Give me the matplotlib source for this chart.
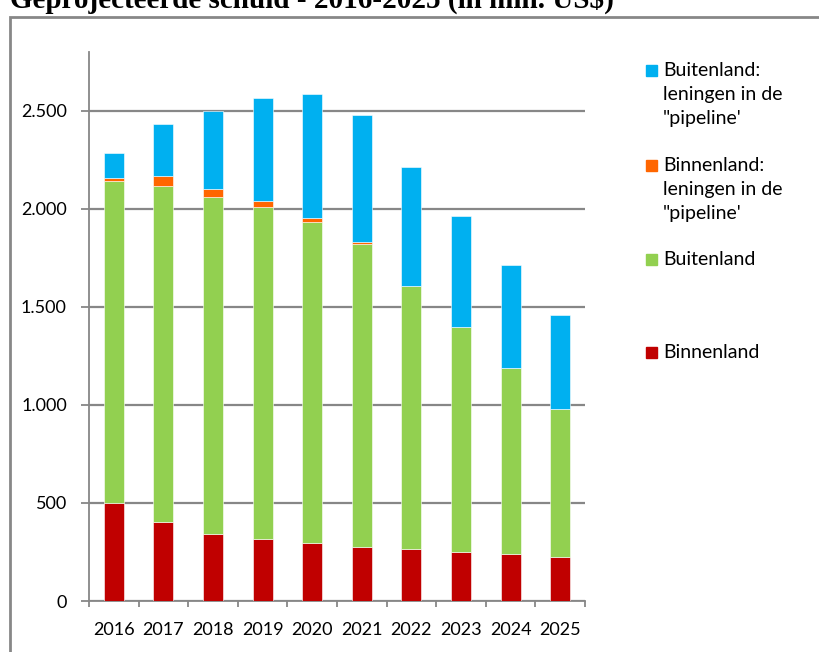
import matplotlib.pyplot as plt
from matplotlib.patches import Rectangle
import numpy as np

years = ["2016", "2017", "2018", "2019", "2020", "2021", "2022", "2023", "2024", "2025"]
binnenland = [500, 403, 342, 316, 296, 276, 265, 250, 240, 224]
buitenland = [1641, 1714, 1718, 1694, 1638, 1544, 1344, 1148, 949, 756]
binnen_pipeline = [14, 50, 40, 31, 20, 10, 0, 0, 0, 0]
buiten_pipeline = [132, 267, 397, 525, 633, 650, 607, 565, 524, 479]

labels = ["Binnenland", "Buitenland",
          "Binnenland:\nleningen in de\n\"pipeline'",
          "Buitenland:\nleningen in de\n\"pipeline'"]
colors = ["#C00000", "#92D050", "#FF6600", "#00B0F0"]
yticks = [0, 500, 1000, 1500, 2000, 2500]
ytick_labels = ["0", "500", "1.000", "1.500", "2.000", "2.500"]

W, H = 819, 652
fig = plt.figure(figsize=(W / 100, H / 100), dpi=100)
ax = fig.add_axes([89 / W, 1 - 601 / H, 496 / W, 549 / H])

x = np.arange(len(years))
bottom = np.zeros(len(years))
for series, c in zip([binnenland, buitenland, binnen_pipeline, buiten_pipeline], colors):
    ax.bar(x, series, width=0.4, bottom=bottom, color=c, edgecolor="white",
           linewidth=0.4, zorder=3)
    bottom += np.array(series)

grey = "#878787"
ax.set_xlim(-0.5, len(years) - 0.5)
ax.set_ylim(0, 2800)
ax.set_yticks(yticks)
ax.set_yticklabels(ytick_labels)
ax.yaxis.grid(True, color=grey, linewidth=1.6, zorder=0)
for s in ["top", "right"]:
    ax.spines[s].set_visible(False)
ax.spines["left"].set_color(grey)
ax.spines["bottom"].set_color(grey)
ax.spines["left"].set_linewidth(1.3)
ax.spines["bottom"].set_linewidth(1.3)

# ticks at the category boundaries, labels in the middle
ax.set_xticks(np.arange(-0.5, len(years), 1.0))
ax.set_xticklabels([])
ax.set_xticks(x, minor=True)
ax.set_xticklabels(years, minor=True)
ax.tick_params(axis="x", which="major", length=4, color=grey, width=1.3)
ax.tick_params(axis="x", which="minor", length=0, pad=15)
ax.tick_params(axis="y", length=6, color=grey, width=1.3, pad=10)

tfont = ["Lato", "DejaVu Sans"]
for t in ax.get_xticklabels(minor=True) + ax.get_yticklabels():
    t.set_family(tfont)
    t.set_fontsize(13)
    t.set_color("black")

# outer chart frame
fig.patches.append(Rectangle((10 / W, -0.1), 1.0, 1 - 17 / H + 0.1,
                             transform=fig.transFigure, fill=False,
                             edgecolor=grey, linewidth=2))

fig.text(10 / W, 1 - 8 / H, "Geprojecteerde schuld - 2016-2025 (in mln. US$)",
         family="Liberation Serif", weight="bold", fontsize=21, va="baseline")

# legend, top entry first (y = baseline of first line, in pixels)
lfont = ["Lato", "DejaVu Sans"]
legend_y = [76, 171, 265, 358]
for lab, c, ly in zip(labels[::-1], colors[::-1], legend_y):
    fig.patches.append(Rectangle((646 / W, 1 - ly / H), 11 / W, 11 / H,
                                 transform=fig.transFigure, color=c))
    fig.text(663 / W, 1 - (ly - 14) / H, lab, family=lfont, fontsize=14,
             va="top", linespacing=1.5)

fig.savefig("out.png", dpi=100)
